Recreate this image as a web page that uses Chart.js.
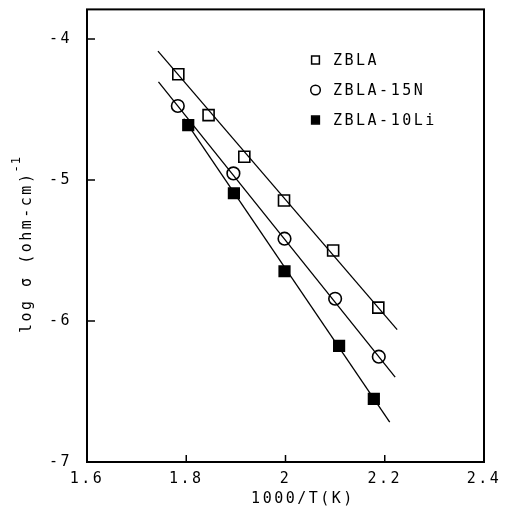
<!DOCTYPE html>
<html>
<head>
<meta charset="utf-8">
<script src="https://cdn.jsdelivr.net/npm/chart.js@4.4.0/dist/chart.umd.min.js"></script>
<style>
html, body { margin: 0; padding: 0; background: #fff; }
#wrap { width: 514px; height: 512px; }
</style>
</head>
<body>
<div id="wrap"><canvas id="arrheniusChart" width="514" height="512"></canvas></div>
<script>
// values: x = 1000/T, y = log sigma
const seriesNames = ['ZBLA', 'ZBLA-15N', 'ZBLA-10Li'];
const zblaX = [1.784, 1.845, 1.917, 1.997, 2.096, 2.187];
const zblaY = [-4.25, -4.54, -4.835, -5.145, -5.50, -5.905];
const n15X = [1.783, 1.895, 1.998, 2.10, 2.188];
const n15Y = [-4.475, -4.953, -5.416, -5.842, -6.253];
const li10X = [1.804, 1.896, 1.998, 2.108, 2.178];
const li10Y = [-4.611, -5.094, -5.647, -6.176, -6.552];

// fitted straight lines (end points as drawn)
const zblaFitX = [1.743, 2.225];
const zblaFitY = [-4.086, -6.061];
const n15FitX = [1.744, 2.221];
const n15FitY = [-4.304, -6.398];
const li10FitX = [1.795, 2.21];
const li10FitY = [-4.564, -6.718];

const xTicks = [1.6, 1.8, 2, 2.2, 2.4];
const yTicks = [-7, -6, -5, -4];
const xTitle = '1000/T(K)';
const yTitle = 'log σ (ohm-cm)';
const yTitleSup = '-1';

const FONT = '"DejaVu Sans Mono", monospace';

function pts(xs, ys) {
    return xs.map((x, i) => ({ x: x, y: ys[i] }));
}

function markerSet(label, xs, ys, style, fill, r) {
    return {
        label: label,
        data: pts(xs, ys),
        showLine: false,
        pointStyle: style,
        pointRadius: r,
        pointBorderWidth: 1.6,
        borderColor: '#000',
        pointBorderColor: '#000',
        pointBackgroundColor: fill,
        backgroundColor: fill,
    };
}

function fitLine(xs, ys) {
    return {
        label: 'fit',
        data: pts(xs, ys),
        showLine: true,
        pointRadius: 0,
        borderColor: '#000',
        borderWidth: 1.3,
        fill: false,
    };
}

// kotak sekeliling plot + tick ke dalam + judul sumbu + legenda
const frame = {
    id: 'frame',
    beforeDraw(chart) {
        chart.ctx.letterSpacing = '2.5px';
    },
    afterDraw(chart) {
        const ctx = chart.ctx;
        const a = chart.chartArea;
        const xs = chart.scales.x, ys = chart.scales.y;
        ctx.save();
        ctx.strokeStyle = '#000';
        ctx.lineWidth = 2;
        ctx.strokeRect(a.left, a.top, a.right - a.left, a.bottom - a.top);
        ctx.lineWidth = 1.5;
        ctx.beginPath();
        xTicks.slice(1, -1).forEach(v => {
            const px = xs.getPixelForValue(v);
            ctx.moveTo(px, a.bottom);
            ctx.lineTo(px, a.bottom - 7);
        });
        yTicks.slice(1).forEach(v => {
            const py = ys.getPixelForValue(v);
            ctx.moveTo(a.left, py);
            ctx.lineTo(a.left + 8, py);
        });
        ctx.stroke();

        // axis titles
        ctx.fillStyle = '#000';
        ctx.font = '15px ' + FONT;
        ctx.textBaseline = 'middle';
        ctx.textAlign = 'center';
        ctx.fillText(xTitle, 303, 499);

        ctx.save();
        ctx.translate(27, 333);
        ctx.rotate(-Math.PI / 2);
        ctx.textAlign = 'left';
        ctx.fillText(yTitle, 0, 0);
        const w = ctx.measureText(yTitle).width;
        ctx.font = '12px ' + FONT;
        ctx.letterSpacing = '1px';
        ctx.fillText(yTitleSup, w - 1, -10);
        ctx.restore();

        // legend inside the plot
        const styles = [
            { pointStyle: 'rect', radius: 5.5, fill: 'rgba(0,0,0,0)' },
            { pointStyle: 'circle', radius: 4.8, fill: 'rgba(0,0,0,0)' },
            { pointStyle: 'rect', radius: 5.5, fill: '#000' },
        ];
        const rowY = [60, 90, 120];
        ctx.font = '15px ' + FONT;
        ctx.textBaseline = 'middle';
        ctx.textAlign = 'left';
        seriesNames.forEach((name, i) => {
            ctx.fillStyle = styles[i].fill;
            ctx.strokeStyle = '#000';
            ctx.lineWidth = 1.5;
            Chart.helpers.drawPoint(ctx, { pointStyle: styles[i].pointStyle, radius: styles[i].radius, rotation: 0, borderWidth: 1.5 }, 315.5, rowY[i]);
            ctx.fillStyle = '#000';
            ctx.fillText(name, 333, rowY[i] + 1);
        });
        ctx.restore();
    }
};

const config = {
    type: 'scatter',
    data: {
        datasets: [
            fitLine(zblaFitX, zblaFitY),
            fitLine(n15FitX, n15FitY),
            fitLine(li10FitX, li10FitY),
            markerSet(seriesNames[0], zblaX, zblaY, 'rect', 'rgba(0,0,0,0)', 7.8),
            markerSet(seriesNames[1], n15X, n15Y, 'circle', 'rgba(0,0,0,0)', 6.3),
            markerSet(seriesNames[2], li10X, li10Y, 'rect', '#000', 7.5),
        ]
    },
    options: {
        responsive: false,
        animation: false,
        layout: { padding: { top: 7, right: 30, left: 0, bottom: 0 } },
        plugins: {
            legend: { display: false },
            tooltip: { enabled: false },
        },
        scales: {
            x: {
                type: 'linear',
                min: 1.6,
                max: 2.4,
                grid: { display: false, drawTicks: false },
                border: { display: false },
                afterBuildTicks: axis => { axis.ticks = xTicks.map(v => ({ value: v })); },
                afterFit: axis => {
                    axis.height = 50;
                    axis.paddingLeft = 0;
                    axis.paddingRight = 0;
                },
                ticks: {
                    color: '#000',
                    padding: 8,
                    maxRotation: 0,
                    font: { family: FONT, size: 15 },
                    callback: v => String(v),
                },
            },
            y: {
                type: 'linear',
                min: -7,
                max: -3.79,
                grid: { display: false, drawTicks: false },
                border: { display: false },
                afterBuildTicks: axis => { axis.ticks = yTicks.map(v => ({ value: v })); },
                afterFit: axis => {
                    axis.width = 87;
                    axis.paddingTop = 0;
                    axis.paddingBottom = 0;
                },
                ticks: {
                    color: '#000',
                    padding: 15,
                    font: { family: FONT, size: 15 },
                    callback: v => String(v),
                },
            },
        },
    },
    plugins: [frame],
};

document.addEventListener('DOMContentLoaded', function () {
    const ctx = document.getElementById('arrheniusChart');
    if (ctx) {
        new Chart(ctx, config);
    }
});
</script>
</body>
</html>
